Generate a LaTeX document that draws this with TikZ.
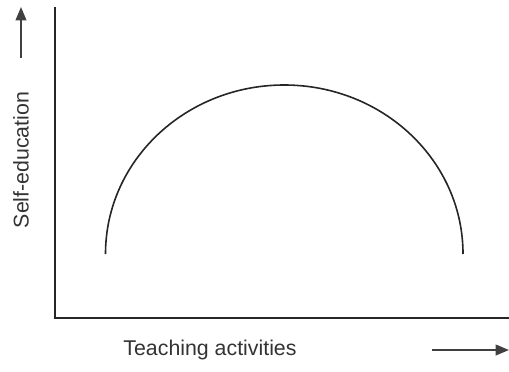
\documentclass[tikz,border=0pt]{standalone}
\usepackage{fontspec}
\setmainfont{Liberation Sans}
\usetikzlibrary{arrows.meta, positioning}

\begin{document}
\begin{tikzpicture}[x=0.75pt, y=-0.75pt,
        axis/.style={draw=black!85, line width=1.5pt},
        curve/.style={draw=black!85, line width=1.2pt},
        pointer/.style={draw=black!75, line width=1.4pt, -{Triangle[length=10pt, width=8pt]}},
        lbl/.style={text=black!80, font=\fontsize{16}{19}\selectfont, inner sep=0pt}]

        \useasboundingbox (0,0) rectangle (509,371);

        \coordinate (top) at (55,7);
        \coordinate (origin) at (55,318);
        \coordinate (right) at (509,318);
        \path [axis] (top) -- (origin) -- (right);

        \node [lbl, rotate=90] (ylabel) at (21,160) {Self-education};
        \node [lbl] (xlabel) at (210,350) {Teaching activities};

        \coordinate (ytail) at (21,58);
        \coordinate (yhead) at (21,7);
        \coordinate (xtail) at (432,350);
        \coordinate (xhead) at (509,350);
        \path [pointer] (ytail) -- (yhead);
        \path [pointer] (xtail) -- (xhead);

        \coordinate (start) at (105.5,254);
        \path [curve] (start) arc [start angle=180, end angle=0, x radius=178.75, y radius=-169];

\end{tikzpicture}
\end{document}
